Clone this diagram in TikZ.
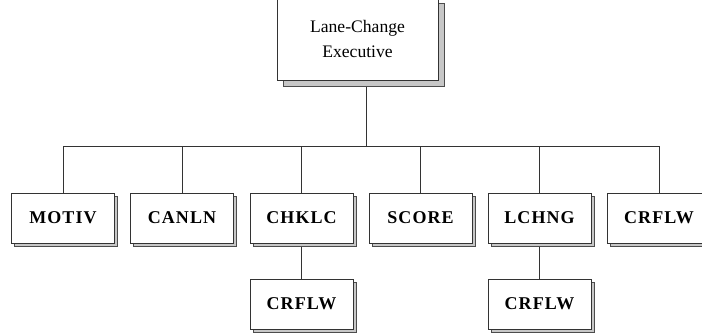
\documentclass[tikz,border=0pt]{standalone}
\usepackage{fontspec}
\setmainfont{Liberation Serif}
\newfontfamily\modfont[LetterSpace=6]{Liberation Serif}
\usetikzlibrary{positioning,backgrounds}
\tikzset{
  shadowed/.style={preaction={draw=black!70,fill=black!22,line width=0.5pt,
      transform canvas={shift={(#1,-#1)}}}},
  modbox/.style={draw=black!80,fill=white,line width=0.6pt,shadowed=2.3pt,
      minimum width=77.25pt,minimum height=37.5pt,inner sep=0pt,
      font=\modfont\bfseries\fontsize{13.5}{16}\selectfont},
  execbox/.style={draw=black!80,fill=white,line width=0.6pt,shadowed=4.5pt,
      minimum width=120.75pt,minimum height=62.25pt,inner sep=0pt,align=center,
      font=\fontsize{13.2}{18.75}\selectfont},
  link/.style={draw=black!80,line width=0.6pt}
}
\begin{document}
\begin{tikzpicture}[x=0.75pt,y=-0.75pt]
  \useasboundingbox (0,0) rectangle (702,333);
  \clip (0,0) rectangle (702,333);

  % executive
  \node[execbox] (exec) at (357.5,38.5) {Lane-Change\\Executive\hspace*{0pt}};

  % first level
  \node[modbox] (motiv) at (63,218) {MOTIV};
  \node[modbox] (canln) at (182,218) {CANLN};
  \node[modbox] (chklc) at (301.5,218) {CHKLC};
  \node[modbox] (score) at (420.5,218) {SCORE};
  \node[modbox] (lchng) at (539.5,218) {LCHNG};
  \node[modbox] (crflw) at (659,218) {CRFLW};

  % second level
  \node[modbox] (chkflw) at (301.5,304) {CRFLW};
  \node[modbox] (lchflw) at (539.5,304) {CRFLW};

  \coordinate (stem) at (366,146.5);

  \begin{pgfonlayer}{background}
    \draw[link] (stem |- exec.south) -- (stem);
    \draw[link] (motiv.north) |- (crflw.north |- stem) -- (crflw.north);
    \foreach \n in {canln,chklc,score,lchng}
      \draw[link] (\n.north) -- (\n.north |- stem);
    \draw[link] (chklc.south) -- (chkflw.north);
    \draw[link] (lchng.south) -- (lchflw.north);
  \end{pgfonlayer}
\end{tikzpicture}
\end{document}
